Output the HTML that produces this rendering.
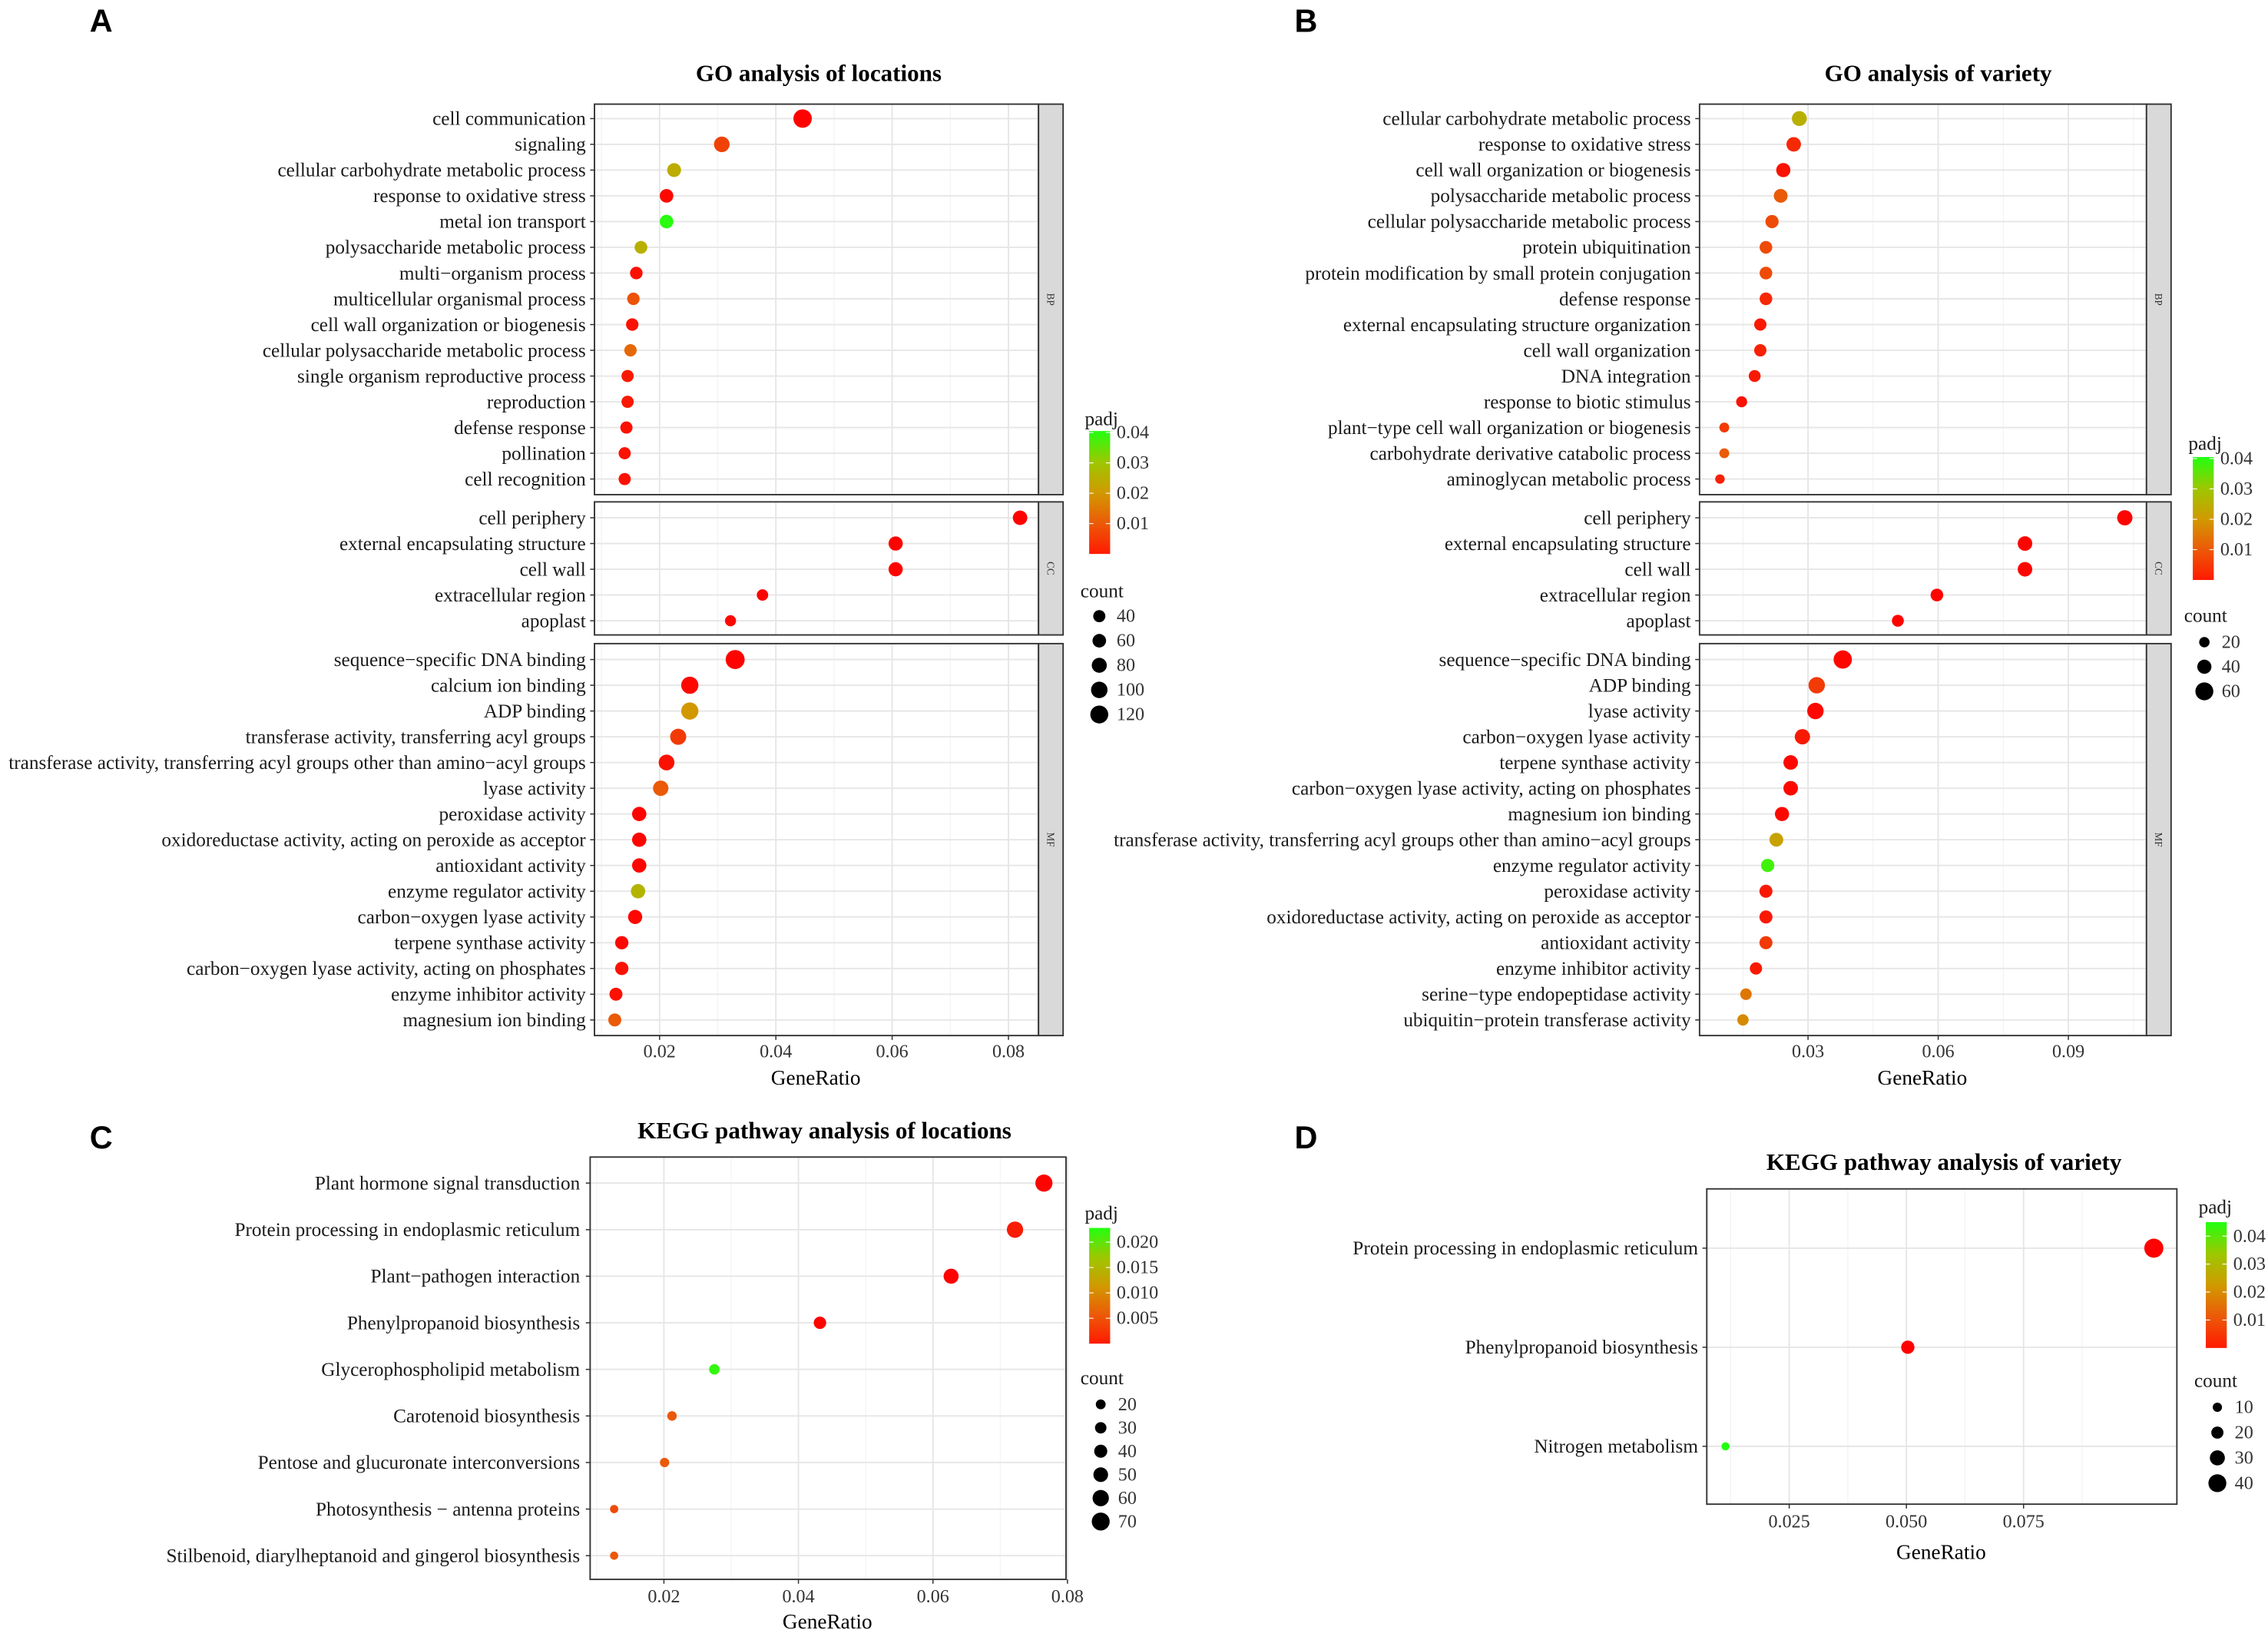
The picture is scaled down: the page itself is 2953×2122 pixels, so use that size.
<!DOCTYPE html>
<html><head><meta charset="utf-8">
<style>
html,body{margin:0;padding:0;background:#fff;}
svg{display:block;font-family:"Liberation Serif",serif;}
.lbl{font-size:13.4px;fill:#1a1a1a;}
.tick{font-size:12.8px;fill:#333;}
.ttl{font-size:16.5px;font-weight:bold;}
.axt{font-size:14.5px;}
.letter{font-family:"Liberation Sans",sans-serif;font-size:22px;font-weight:bold;}
</style></head>
<body>
<svg id="fig" width="2953" height="2122" viewBox="0 0 1568 1127" preserveAspectRatio="none" xmlns="http://www.w3.org/2000/svg">
<defs>
<linearGradient id="grad" x1="0" y1="1" x2="0" y2="0">
<stop offset="0" stop-color="#ff1a00"/><stop offset="0.25" stop-color="#ec5a08"/><stop offset="0.5" stop-color="#d09a00"/><stop offset="0.75" stop-color="#9cc800"/><stop offset="1" stop-color="#22ff10"/>
</linearGradient>
</defs>
</svg>
<script>
// ---------- DATA ----------
const aBPTerms=["cell communication","signaling","cellular carbohydrate metabolic process","response to oxidative stress","metal ion transport","polysaccharide metabolic process","multi\u2212organism process","multicellular organismal process","cell wall organization or biogenesis","cellular polysaccharide metabolic process","single organism reproductive process","reproduction","defense response","pollination","cell recognition"];
const aBPRatio=[0.0446,0.0307,0.0225,0.0212,0.0212,0.0168,0.016,0.0155,0.0153,0.015,0.0145,0.0145,0.0143,0.014,0.014];
const aBPCount=[127,88,64,60,60,48,46,44,44,43,41,41,41,40,40];
const aBPPadj=[0.0002,0.008,0.024,0.001,0.040,0.025,0.002,0.010,0.002,0.013,0.003,0.003,0.002,0.002,0.002];
const aCCTerms=["cell periphery","external encapsulating structure","cell wall","extracellular region","apoplast"];
const aCCRatio=[0.082,0.0606,0.0606,0.0377,0.0322];
const aCCCount=[72,68,68,30,25];
const aCCPadj=[0.0002,0.0002,0.0002,0.0005,0.001];
const aMFTerms=["sequence\u2212specific DNA binding","calcium ion binding","ADP binding","transferase activity, transferring acyl groups","transferase activity, transferring acyl groups other than amino\u2212acyl groups","lyase activity","peroxidase activity","oxidoreductase activity, acting on peroxide as acceptor","antioxidant activity","enzyme regulator activity","carbon\u2212oxygen lyase activity","terpene synthase activity","carbon\u2212oxygen lyase activity, acting on phosphates","enzyme inhibitor activity","magnesium ion binding"];
const aMFRatio=[0.033,0.0252,0.0252,0.0232,0.0212,0.0202,0.0165,0.0165,0.0165,0.0163,0.0158,0.0135,0.0135,0.0125,0.0123];
const aMFCount=[135,110,110,95,90,85,70,70,70,70,68,56,56,52,52];
const aMFPadj=[0.0005,0.001,0.020,0.007,0.002,0.011,0.0005,0.0005,0.0005,0.026,0.001,0.001,0.002,0.002,0.011];

const bBPTerms=["cellular carbohydrate metabolic process","response to oxidative stress","cell wall organization or biogenesis","polysaccharide metabolic process","cellular polysaccharide metabolic process","protein ubiquitination","protein modification by small protein conjugation","defense response","external encapsulating structure organization","cell wall organization","DNA integration","response to biotic stimulus","plant\u2212type cell wall organization or biogenesis","carbohydrate derivative catabolic process","aminoglycan metabolic process"];
const bBPRatio=[0.028,0.0267,0.0243,0.0237,0.0217,0.0203,0.0203,0.0203,0.019,0.019,0.0177,0.0147,0.0107,0.0107,0.0097];
const bBPCount=[44,42,40,38,35,32,32,32,30,30,28,23,17,17,15];
const bBPPadj=[0.025,0.005,0.002,0.011,0.009,0.009,0.009,0.005,0.003,0.004,0.003,0.002,0.007,0.011,0.004];
const bCCTerms=["cell periphery","external encapsulating structure","cell wall","extracellular region","apoplast"];
const bCCRatio=[0.103,0.08,0.08,0.0597,0.0507];
const bCCCount=[46,42,42,32,28];
const bCCPadj=[0.0005,0.0005,0.0005,0.0005,0.0005];
const bMFTerms=["sequence\u2212specific DNA binding","ADP binding","lyase activity","carbon\u2212oxygen lyase activity","terpene synthase activity","carbon\u2212oxygen lyase activity, acting on phosphates","magnesium ion binding","transferase activity, transferring acyl groups other than amino\u2212acyl groups","enzyme regulator activity","peroxidase activity","oxidoreductase activity, acting on peroxide as acceptor","antioxidant activity","enzyme inhibitor activity","serine\u2212type endopeptidase activity","ubiquitin\u2212protein transferase activity"];
const bMFRatio=[0.038,0.032,0.0317,0.0287,0.026,0.026,0.024,0.0227,0.0207,0.0203,0.0203,0.0203,0.018,0.0157,0.015];
const bMFCount=[62,52,52,46,42,42,40,38,35,34,34,34,30,26,25];
const bMFPadj=[0.001,0.007,0.001,0.003,0.001,0.001,0.001,0.022,0.038,0.003,0.003,0.007,0.003,0.015,0.018];

const cTerms=["Plant hormone signal transduction","Protein processing in endoplasmic reticulum","Plant\u2212pathogen interaction","Phenylpropanoid biosynthesis","Glycerophospholipid metabolism","Carotenoid biosynthesis","Pentose and glucuronate interconversions","Photosynthesis \u2212 antenna proteins","Stilbenoid, diarylheptanoid and gingerol biosynthesis"];
const cRatio=[0.0765,0.0722,0.0627,0.0432,0.0275,0.0212,0.0201,0.0126,0.0126];
const cCount=[65,60,52,36,24,18,17,10,10];
const cPadj=[0.0002,0.002,0.0002,0.0002,0.022,0.006,0.006,0.005,0.006];

const dTerms=["Protein processing in endoplasmic reticulum","Phenylpropanoid biosynthesis","Nitrogen metabolism"];
const dRatio=[0.1028,0.0503,0.0114];
const dCount=[44,24,6];
const dPadj=[0.0002,0.0002,0.045];

const aXTicks=[0.02,0.04,0.06,0.08];
const bXTicks=[0.03,0.06,0.09];
const cXTicks=[0.02,0.04,0.06,0.08];
const dXTicks=[0.025,0.050,0.075];
const aPadjTicks=[0.01,0.02,0.03,0.04];
const cPadjTicks=[0.005,0.010,0.015,0.020];
const aCountTicks=[40,60,80,100,120];
const bCountTicks=[20,40,60];
const cCountTicks=[20,30,40,50,60,70];
const dCountTicks=[10,20,30,40];

// ---------- HELPERS ----------
const NS="http://www.w3.org/2000/svg";
const svg=document.getElementById('fig');
function mk(tag,attrs,parent,name){const e=document.createElementNS(NS,tag);for(const k in attrs)e.setAttribute(k,attrs[k]);


(parent||svg).appendChild(e);return e;}
function txt(s,x,y,cls,anchor,parent,name){const t=mk('text',{x:x,y:y,class:cls,'text-anchor':anchor||'start'},parent,name);t.textContent=s;return t;}
const stops=[[0,[255,0,0]],[0.25,[236,84,8]],[0.5,[208,154,0]],[0.75,[156,200,0]],[1,[34,255,16]]];
function colorFor(p,max){let t=Math.max(0,Math.min(1,p/max));for(let i=1;i<stops.length;i++){if(t<=stops[i][0]){const a=stops[i-1],b=stops[i];const f=(t-a[0])/(b[0]-a[0]);const c=a[1].map((v,j)=>Math.round(v+(b[1][j]-v)*f));return `rgb(${c[0]},${c[1]},${c[2]})`;}}return 'rgb(34,255,16)';}
function rFor(c,cs){const c0=cs[0],c1=cs[cs.length-1];return cs.rMin+(cs.rMax-cs.rMin)*(c-c0)/(c1-c0);}

function drawFacet(g,o){
  const xs=v=>o.x0+(v-o.dom[0])/(o.dom[1]-o.dom[0])*(o.x1-o.x0);
  mk('rect',{x:o.x0,y:o.y0,width:o.x1-o.x0,height:o.y1-o.y0,fill:'#fff'},g,'panel-background');
  o.minor.forEach(v=>mk('line',{x1:xs(v),x2:xs(v),y1:o.y0,y2:o.y1,stroke:'#f2f2f2','stroke-width':0.6},g,'minor-gridline'));
  o.xticks.forEach(v=>mk('line',{x1:xs(v),x2:xs(v),y1:o.y0,y2:o.y1,stroke:'#e6e6e6','stroke-width':1},g,'major-gridline'));
  o.terms.forEach((t,i)=>{const y=o.rowY0+i*o.rowStep;
    mk('line',{x1:o.x0,x2:o.x1,y1:y,y2:y,stroke:'#e6e6e6','stroke-width':1},g,'row-gridline');
    txt(t,o.labelX,y+4.4,'lbl','end',g,'term-label');
    mk('line',{x1:o.x0-3,x2:o.x0,y1:y,y2:y,stroke:'#333','stroke-width':0.8},g,'y-tick');
  });
  o.terms.forEach((t,i)=>{const y=o.rowY0+i*o.rowStep;
    mk('circle',{cx:xs(o.ratio[i]),cy:y,r:rFor(o.count[i],o.counts),fill:colorFor(o.padj[i],o.padjMax)},g,'dot');
  });
  mk('rect',{x:o.x0,y:o.y0,width:o.x1-o.x0,height:o.y1-o.y0,fill:'none',stroke:'#333','stroke-width':1},g,'panel-border');
  if(o.strip){mk('rect',{x:o.x1,y:o.y0,width:17,height:o.y1-o.y0,fill:'#d9d9d9',stroke:'#333','stroke-width':1},g,'facet-strip');
    const t=txt(o.strip,o.x1+8.5,(o.y0+o.y1)/2,'', 'middle',g,'facet-label');t.setAttribute('font-size','7');t.setAttribute('fill','#333');
    t.setAttribute('transform',`rotate(90 ${o.x1+8.5} ${(o.y0+o.y1)/2})`);t.setAttribute('dy','2.5');}
  return xs;
}
function xAxis(g,xs,ticks,y,labY,titleY,cx,fmt){
  ticks.forEach(v=>{mk('line',{x1:xs(v),x2:xs(v),y1:y,y2:y+3,stroke:'#333','stroke-width':0.8},g,'x-tick');
    txt(fmt(v),xs(v),labY,'tick','middle',g,'x-tick-label');});
  txt('GeneRatio',cx,titleY,'axt','middle',g,'x-axis-title');
}
function legend(g,o){
  txt('padj',o.x,o.py,'lbl','start',g,'padj-legend-title');
  mk('rect',{x:o.gx,y:o.gy0,width:14.5,height:o.gy1-o.gy0,fill:'url(#grad)'},g,'padj-colorbar');
  o.pticks.forEach(v=>{const y=o.gy1-(v/o.pmax)*(o.gy1-o.gy0);
    mk('line',{x1:o.gx,x2:o.gx+3,y1:y,y2:y,stroke:'#fff','stroke-width':0.6},g,'colorbar-tick');
    mk('line',{x1:o.gx+11.5,x2:o.gx+14.5,y1:y,y2:y,stroke:'#fff','stroke-width':0.6},g,'colorbar-tick');
    txt(o.pfmt(v),o.gx+19,y+4,'tick','start',g,'colorbar-label');});
  txt('count',o.x-3,o.cy,'lbl','start',g,'count-legend-title');
  o.cticks.forEach((c,i)=>{const y=o.cy0+i*o.cstep;
    mk('circle',{cx:o.ccx,cy:y,r:rFor(c,o.cticks),fill:'#000'},g,'size-legend-dot');
    txt(String(c),o.ccx+12,y+4,'tick','start',g,'size-legend-label');});
}

aCountTicks.rMin=4.2;aCountTicks.rMax=6.2;
bCountTicks.rMin=3.6;bCountTicks.rMax=6.2;
cCountTicks.rMin=3.4;cCountTicks.rMax=6.2;
dCountTicks.rMin=3.2;dCountTicks.rMax=6.2;

// ---------- PANEL A ----------
(function(){
 const g=mk('g',{},svg,'panel-a-go-locations');
 txt('A',62,22,'letter','start',g,'panel-letter');
 txt('GO analysis of locations',566,56,'ttl','middle',g,'chart-title');
 const dom=[0.02-(456-411)/4020,0.02+(718-456)/4020];
 const minor=[0.01,0.03,0.05,0.07];
 const base={x0:411,x1:718,dom:dom,xticks:aXTicks,minor:minor,padjMax:0.0405,counts:aCountTicks,labelX:405,rowStep:17.8};
 const xs=drawFacet(g,Object.assign({},base,{y0:72,y1:342,terms:aBPTerms,ratio:aBPRatio,count:aBPCount,padj:aBPPadj,rowY0:82,strip:'BP'}));
 drawFacet(g,Object.assign({},base,{y0:347,y1:439,terms:aCCTerms,ratio:aCCRatio,count:aCCCount,padj:aCCPadj,rowY0:358,strip:'CC'}));
 drawFacet(g,Object.assign({},base,{y0:445,y1:716,terms:aMFTerms,ratio:aMFRatio,count:aMFCount,padj:aMFPadj,rowY0:456,strip:'MF'}));
 xAxis(g,xs,aXTicks,716,731,750,564,v=>v.toFixed(2));
 legend(g,{x:750,py:294,gx:753,gy0:298,gy1:383,pmax:0.0405,pticks:aPadjTicks,pfmt:v=>v.toFixed(2),cy:413,cy0:426,cstep:17,ccx:760,cticks:aCountTicks});
})();
// ---------- PANEL B ----------
(function(){
 const g=mk('g',{},svg,'panel-b-go-variety');
 txt('B',895,22,'letter','start',g,'panel-letter');
 txt('GO analysis of variety',1340,56,'ttl','middle',g,'chart-title');
 const dom=[0.03-(1250-1175)/3000,0.03+(1484-1250)/3000];
 const minor=[0.015,0.045,0.075,0.105];
 const base={x0:1175,x1:1484,dom:dom,xticks:bXTicks,minor:minor,padjMax:0.0405,counts:bCountTicks,labelX:1169,rowStep:17.8};
 const xs=drawFacet(g,Object.assign({},base,{y0:72,y1:342,terms:bBPTerms,ratio:bBPRatio,count:bBPCount,padj:bBPPadj,rowY0:82,strip:'BP'}));
 drawFacet(g,Object.assign({},base,{y0:347,y1:439,terms:bCCTerms,ratio:bCCRatio,count:bCCCount,padj:bCCPadj,rowY0:358,strip:'CC'}));
 drawFacet(g,Object.assign({},base,{y0:445,y1:716,terms:bMFTerms,ratio:bMFRatio,count:bMFCount,padj:bMFPadj,rowY0:456,strip:'MF'}));
 xAxis(g,xs,bXTicks,716,731,750,1329,v=>v.toFixed(2));
 legend(g,{x:1513,py:311,gx:1516,gy0:316,gy1:401,pmax:0.0405,pticks:aPadjTicks,pfmt:v=>v.toFixed(2),cy:430,cy0:444,cstep:17,ccx:1524,cticks:bCountTicks});
})();
// ---------- PANEL C ----------
(function(){
 const g=mk('g',{},svg,'panel-c-kegg-locations');
 txt('C',62,794,'letter','start',g,'panel-letter');
 txt('KEGG pathway analysis of locations',570,787,'ttl','middle',g,'chart-title');
 const k=(645-459)/0.04;
 const dom=[0.02-(459-408)/k,0.02+(737-459)/k];
 const xs=drawFacet(g,{x0:408,x1:737,y0:800,y1:1092,dom:dom,xticks:cXTicks,minor:[0.01,0.03,0.05,0.07],padjMax:0.0228,counts:cCountTicks,labelX:401,rowStep:32.2,terms:cTerms,ratio:cRatio,count:cCount,padj:cPadj,rowY0:818});
 xAxis(g,xs,cXTicks,1092,1108,1126,572,v=>v.toFixed(2));
 legend(g,{x:750,py:843,gx:753,gy0:849,gy1:929,pmax:0.0228,pticks:cPadjTicks,pfmt:v=>v.toFixed(3),cy:957,cy0:971,cstep:16.2,ccx:761,cticks:cCountTicks});
})();
// ---------- PANEL D ----------
(function(){
 const g=mk('g',{},svg,'panel-d-kegg-variety');
 txt('D',895,794,'letter','start',g,'panel-letter');
 txt('KEGG pathway analysis of variety',1344,809,'ttl','middle',g,'chart-title');
 const k=(1399-1237)/0.05;
 const dom=[0.025-(1237-1180)/k,0.025+(1505-1237)/k];
 const xs=drawFacet(g,{x0:1180,x1:1505,y0:822,y1:1040,dom:dom,xticks:dXTicks,minor:[0.0125,0.0375,0.0625,0.0875],padjMax:0.045,counts:dCountTicks,labelX:1174,rowStep:68.5,terms:dTerms,ratio:dRatio,count:dCount,padj:dPadj,rowY0:863});
 xAxis(g,xs,dXTicks,1040,1056,1078,1342,v=>v.toFixed(3));
 legend(g,{x:1520,py:839,gx:1525,gy0:845,gy1:932,pmax:0.045,pticks:aPadjTicks,pfmt:v=>v.toFixed(2),cy:959,cy0:973,cstep:17.5,ccx:1533,cticks:dCountTicks});
})();
</script>
</body></html>
